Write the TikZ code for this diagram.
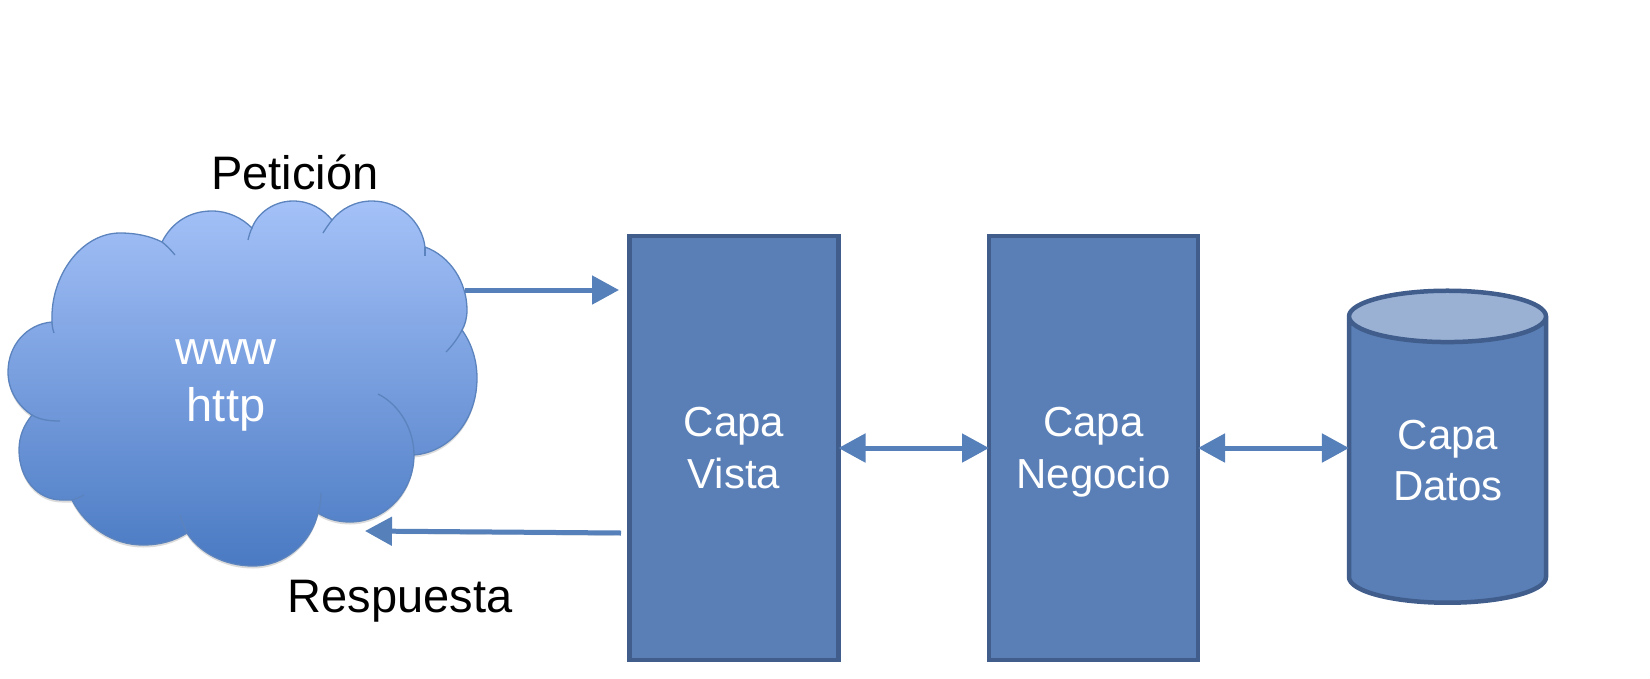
\documentclass[tikz,border=0pt]{standalone}
\usepackage{fontspec}
\setmainfont{Liberation Sans}
\usetikzlibrary{arrows.meta, shapes.geometric}
\definecolor{capafill}{HTML}{5A7FB6}
\definecolor{capaline}{HTML}{405D8C}
\definecolor{capatop}{HTML}{9AB1D4}
\definecolor{arrowblue}{HTML}{5580BA}
\definecolor{cloudtop}{HTML}{A4C1F8}
\definecolor{cloudbottom}{HTML}{4A7AC3}
\definecolor{cloudline}{HTML}{5B83BD}
\begin{document}
\begin{tikzpicture}[
        x=1pt, y=-1pt,
        capa/.style={rectangle, draw=capaline, line width=4.5pt, fill=capafill, text=white, minimum width=209pt, minimum height=424pt, outer sep=0pt, align=center, font=\fontsize{42}{51.5}\selectfont},
        capatext/.style={text=white, align=center, font=\fontsize{42}{51}\selectfont},
        cloudtext/.style={text=white, align=center, font=\fontsize{47}{57}\selectfont},
        caption/.style={text=black, font=\fontsize{47}{57}\selectfont},
        cloudedge/.style={draw=cloudline, line width=1.3pt},
        softshadow/.style={preaction={draw=black, opacity=.16, transform canvas={yshift=-2.5pt}}},
        arrow/.style={-{Triangle[length=27pt, width=28pt]}, draw=arrowblue, line width=5pt, softshadow},
        biarrow/.style={{Triangle[length=27pt, width=28pt]}-{Triangle[length=27pt, width=28pt]}, draw=arrowblue, line width=5pt, softshadow}
    ]
        \useasboundingbox (0,0) rectangle (1650,678);

        % Cloud
        \path[cloudedge, top color=cloudtop, bottom color=cloudbottom, preaction={fill=black, opacity=.14, transform canvas={yshift=-2.5pt}}]
            (52,322) .. controls (50,275) and (82,233) .. (120,233) .. controls (136,233) and (150,236) .. (162,242)
            .. controls (172,222) and (190,211) .. (212,211) .. controls (228,211) and (242,218) .. (252,228)
            .. controls (258,212) and (275,201) .. (293,201) .. controls (310,201) and (323,209) .. (332,220)
            .. controls (341,209) and (355,201) .. (372,201) .. controls (400,201) and (422,222) .. (425,247)
            .. controls (450,256) and (467,282) .. (467,310) .. controls (467,318) and (465,325) .. (462,330)
            .. controls (472,344) and (477,361) .. (477,378) .. controls (477,420) and (450,452) .. (414,455)
            .. controls (414,492) and (385,522) .. (350,522) .. controls (338,522) and (327,519) .. (318,513)
            .. controls (311,543) and (285,566) .. (253,566) .. controls (224,566) and (199,552) .. (187,533)
            .. controls (174,541) and (160,545) .. (143,545) .. controls (113,545) and (86,527) .. (72,500)
            .. controls (69,500) and (65,500) .. (62,500) .. controls (37,500) and (19,478) .. (19,450)
            .. controls (19,436) and (24,425) .. (32,415) .. controls (18,406) and (8,390) .. (8,372)
            .. controls (8,345) and (27,324) .. (52,322) -- cycle;
        \draw[cloudedge] (52,322) .. controls (52,326) and (53,330) .. (54,333);
        \draw[cloudedge] (162,242) .. controls (166,245) and (171,250) .. (175,255);
        \draw[cloudedge] (252,228) .. controls (250,232) and (249,236) .. (248,240);
        \draw[cloudedge] (332,220) .. controls (329,224) and (326,228) .. (323,233);
        \draw[cloudedge] (425,247) .. controls (425,250) and (425,253) .. (425,256);
        \draw[cloudedge] (462,330) .. controls (458,338) and (452,346) .. (446,352);
        \draw[cloudedge] (378,394) .. controls (400,405) and (414,430) .. (414,455);
        \draw[cloudedge] (318,513) .. controls (320,507) and (321,500) .. (321,493);
        \draw[cloudedge] (187,533) .. controls (184,527) and (182,521) .. (180,515);
        \draw[cloudedge] (72,500) .. controls (76,499) and (80,497) .. (84,495);
        \draw[cloudedge] (32,415) .. controls (40,420) and (50,421) .. (60,421);
        \node[cloudtext] (www) at (226,385) {www\\http};

        \node[caption, anchor=base] (peticion) at (295,189) {Petición};
        \node[caption, anchor=base] (respuesta) at (400,612) {Respuesta};

        % Layers
        \node[capa] (vista) at (734,448) {Capa\\Vista};
        \node[capa] (negocio) at (1093.5,448) {Capa\\\smash{Negocio}};
        \node[cylinder, shape border rotate=90, aspect=7.7, draw=capaline, line width=4.5pt, cylinder uses custom fill, cylinder body fill=capafill, cylinder end fill=capatop, minimum width=197pt, minimum height=312pt, outer sep=0pt] (datos) at (1447.5,464) {};
        \node[capatext] (datostext) at (1448,461) {Capa\\Datos};

        % Connectors
        \coordinate (cloudout) at (465,290);
        \coordinate (vistain) at (619,290);
        \coordinate (vistaout) at (621,533);
        \coordinate (cloudin) at (365,531);
        \draw[arrow] (cloudout) -- (vistain);
        \draw[arrow] (vistaout) -- (cloudin);
        \draw[biarrow] (vista.east) -- (negocio.west);
        \draw[biarrow] (negocio.east) -- (negocio.east -| datos.west);
    \end{tikzpicture}
\end{document}
